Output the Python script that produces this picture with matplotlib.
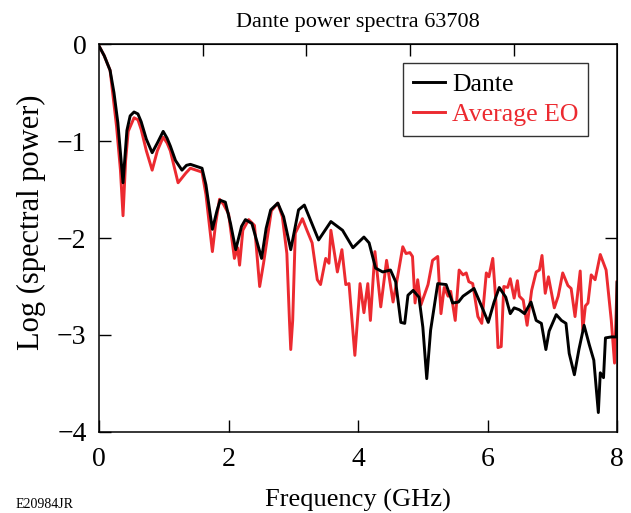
"""Dante vs average EO power spectra (static recreation)."""

import matplotlib

matplotlib.use("Agg")
import matplotlib.pyplot as plt

# Frequency (GHz) / log spectral power
dante_freq = [
    0.00, 0.08, 0.17, 0.23, 0.29, 0.37, 0.43, 0.48, 0.54, 0.60, 0.65, 0.73,
    0.82, 0.90, 0.99, 1.05, 1.10, 1.18, 1.28, 1.35, 1.41, 1.50, 1.59, 1.65,
    1.75, 1.82, 1.87, 1.95, 2.03, 2.11, 2.20, 2.26, 2.36, 2.51, 2.58, 2.65,
    2.76, 2.85, 2.96, 3.08, 3.17, 3.28, 3.39, 3.58, 3.76, 3.92, 4.09, 4.17,
    4.27, 4.38, 4.50, 4.58, 4.66, 4.72, 4.77, 4.85, 4.94, 5.00, 5.06, 5.12,
    5.23, 5.36, 5.46, 5.55, 5.62, 5.79, 5.93, 6.01, 6.10, 6.18, 6.28, 6.35,
    6.41, 6.49, 6.57, 6.67, 6.75, 6.83, 6.90, 6.95, 7.06, 7.14, 7.21, 7.26,
    7.34, 7.41, 7.49, 7.57, 7.64, 7.71, 7.74, 7.79, 7.82, 7.91, 7.99, 8.00,
]
dante_power = [
    -0.02, -0.12, -0.27, -0.50, -0.81, -1.43, -0.89, -0.74, -0.70, -0.72,
    -0.80, -0.98, -1.12, -1.02, -0.90, -0.97, -1.05, -1.20, -1.30, -1.25,
    -1.24, -1.26, -1.28, -1.45, -1.91, -1.72, -1.61, -1.63, -1.85, -2.12,
    -1.88, -1.81, -1.85, -2.21, -1.90, -1.71, -1.64, -1.78, -2.12, -1.71,
    -1.66, -1.84, -2.02, -1.83, -1.92, -2.10, -1.99, -2.05, -2.31, -2.35,
    -2.33, -2.45, -2.87, -2.88, -2.59, -2.54, -2.61, -2.92, -3.45, -2.95,
    -2.47, -2.48, -2.67, -2.66, -2.60, -2.52, -2.74, -2.87, -2.66, -2.51,
    -2.61, -2.78, -2.72, -2.74, -2.78, -2.66, -2.85, -2.88, -3.15, -2.96,
    -2.79, -2.85, -2.88, -3.19, -3.41, -3.15, -2.90, -3.10, -3.26, -3.80,
    -3.39, -3.44, -3.03, -3.02, -3.02, -2.46,
]

eo_freq = [
    0.00, 0.08, 0.17, 0.27, 0.33, 0.37, 0.41, 0.45, 0.54, 0.60, 0.65, 0.73,
    0.82, 0.90, 0.99, 1.05, 1.10, 1.22, 1.28, 1.34, 1.41, 1.50, 1.59, 1.65,
    1.75, 1.80, 1.86, 1.92, 2.00, 2.09, 2.14, 2.17, 2.22, 2.31, 2.40, 2.48,
    2.54, 2.66, 2.76, 2.83, 2.90, 2.94, 2.96, 2.99, 3.03, 3.14, 3.21, 3.29,
    3.37, 3.42, 3.50, 3.55, 3.58, 3.68, 3.75, 3.81, 3.86, 3.95, 4.01, 4.03,
    4.09, 4.15, 4.19, 4.26, 4.35, 4.44, 4.54, 4.61, 4.69, 4.74, 4.80, 4.84,
    4.88, 4.92, 4.97, 5.08, 5.15, 5.23, 5.28, 5.33, 5.39, 5.43, 5.50, 5.56,
    5.62, 5.67, 5.71, 5.77, 5.85, 5.91, 5.98, 6.02, 6.08, 6.13, 6.16, 6.21,
    6.25, 6.31, 6.35, 6.41, 6.46, 6.49, 6.55, 6.61, 6.68, 6.75, 6.80, 6.84,
    6.89, 6.94, 7.03, 7.09, 7.16, 7.24, 7.29, 7.35, 7.43, 7.47, 7.51, 7.55,
    7.60, 7.66, 7.74, 7.83, 7.91, 7.96, 8.00,
]
eo_power = [
    -0.02, -0.12, -0.27, -0.85, -1.30, -1.77, -1.20, -0.90, -0.76, -0.78,
    -0.88, -1.10, -1.30, -1.10, -0.96, -1.02, -1.10, -1.43, -1.38, -1.33,
    -1.28, -1.30, -1.32, -1.55, -2.14, -1.85, -1.60, -1.65, -1.75, -2.21,
    -2.10, -2.28, -1.92, -1.81, -1.87, -2.50, -2.26, -1.72, -1.64, -1.78,
    -2.16, -2.85, -3.15, -2.85, -1.95, -1.80, -1.92, -2.05, -2.43, -2.48,
    -2.21, -2.26, -1.92, -2.35, -2.12, -2.48, -2.47, -3.21, -2.67, -2.47,
    -2.77, -2.47, -2.85, -2.14, -2.71, -2.23, -2.66, -2.40, -2.09, -2.16,
    -2.15, -2.19, -2.67, -2.43, -2.69, -2.48, -2.23, -2.19, -2.78, -2.51,
    -2.60, -2.55, -2.85, -2.33, -2.38, -2.36, -2.45, -2.47, -2.81, -2.88,
    -2.36, -2.40, -2.21, -2.67, -3.13, -3.12, -2.50, -2.51, -2.42, -2.62,
    -2.44, -2.60, -2.64, -2.90, -2.54, -2.35, -2.33, -2.18, -2.57, -2.40,
    -2.72, -2.60, -2.36, -2.49, -2.52, -2.81, -2.34, -2.95, -2.70, -2.67,
    -2.38, -2.43, -2.17, -2.33, -2.85, -3.29, -2.45,
]

x_ticks = [0, 2, 4, 6, 8]
y_ticks = [0, -1, -2, -3, -4]
top_ticks = [1.6, 3.2, 4.8, 6.4]
right_ticks = [-2]

RED = "#ec2a30"

plt.rcParams["font.family"] = ["Liberation Serif", "DejaVu Serif"]
plt.rcParams["axes.unicode_minus"] = True

fig = plt.figure(figsize=(6.31, 5.13), dpi=100)
ax = fig.add_axes([0.157, 0.158, 0.821, 0.756])

ax.plot(dante_freq, dante_power, color="black", lw=2.1, label="Dante", zorder=3)
ax.plot(eo_freq, eo_power, color=RED, lw=2.1, label="Average EO", zorder=2)

ax.set_xlim(0, 8)
ax.set_ylim(-4, 0)
ax.set_xticks(x_ticks)
ax.set_yticks(y_ticks)
ax.tick_params(direction="in", length=8.5, width=1.0, labelsize=20,
               top=False, right=False)
ax.tick_params(axis="x", pad=11)
ax.tick_params(axis="y", pad=9)
for sp in ax.spines.values():
    sp.set_linewidth(1.1)

top = ax.secondary_xaxis("top")
top.set_xticks(top_ticks)
top.tick_params(direction="in", length=8.5, width=1.0, labeltop=False)
right = ax.secondary_yaxis("right")
right.set_yticks(right_ticks)
right.tick_params(direction="in", length=8.5, width=1.0, labelright=False)

ax.set_title("Dante power spectra 63708", fontsize=16, pad=12)
ax.set_xlabel("Frequency (GHz)", fontsize=19, labelpad=12)
ax.set_ylabel("Log (spectral power)", fontsize=22)
ax.yaxis.set_label_coords(-0.102, 0.54)

leg = ax.legend(loc="upper right", bbox_to_anchor=(0.944, 0.951),
                borderaxespad=0, fontsize=18.5, frameon=True, fancybox=False,
                handlelength=1.25, handletextpad=0.28, labelspacing=0.3,
                borderpad=0.37)
leg.get_frame().set_edgecolor("black")
leg.get_frame().set_linewidth(1.0)
for txt, col in zip(leg.get_texts(), ["black", RED]):
    txt.set_color(col)

fig.text(0.025, 0.003, "E20984JR", fontsize=10, va="bottom", ha="left")

fig.savefig("out.png", dpi=100)
plt.close(fig)
